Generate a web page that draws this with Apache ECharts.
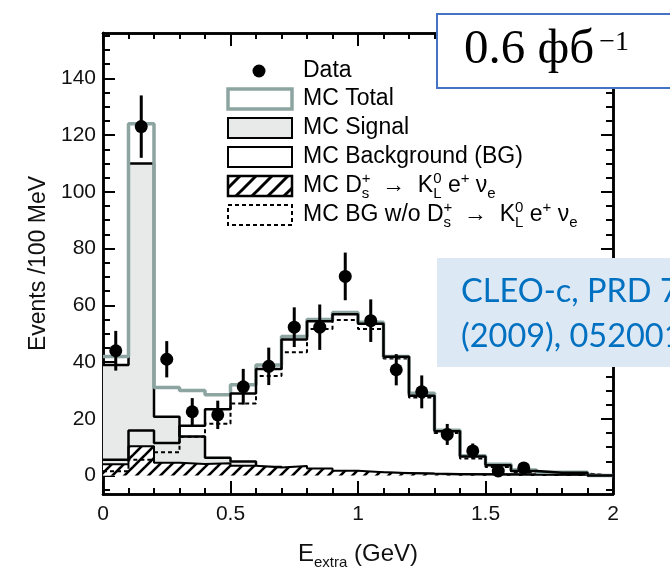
<!DOCTYPE html>
<html>
<head>
<meta charset="utf-8">
<script src="https://cdn.jsdelivr.net/npm/echarts@6/dist/echarts.min.js"></script>
<style>
  html, body { margin: 0; padding: 0; background: #fff; }
  #chart { width: 670px; height: 575px; }
</style>
</head>
<body>
<div id="chart"></div>
<script>
// bin edges (GeV), 100 MeV bins
const edges = [0, 0.1, 0.2, 0.3, 0.4, 0.5, 0.6, 0.7, 0.8, 0.9, 1.0,
  1.1, 1.2, 1.3, 1.4, 1.5, 1.6, 1.7, 1.8, 1.9, 2.0];

// histograms, one value per bin
const mcTotal  = [42, 124, 31, 30, 28.5, 32, 39, 49, 55, 57.5, 54, 42, 29, 16, 7, 4, 2, 1.2, 1.2, 0];
const mcSignal = [39, 110, 20.7, 13.8, 6.3, 5, 3, 2, 1.5, 1.2, 1, 0.8, 0.6, 0.5, 0.4, 0.4, 0.3, 0.3, 0.3, 0];
const mcBG     = [5.6, 15.9, 11.5, 17.6, 23.4, 28.9, 37.6, 48, 54.4, 56.9, 53.5, 41.9, 28.1, 15.6, 6.7, 3.6, 1.6, 1, 1, 0];
const mcKlenu  = [4, 10.3, 4.5, 4.1, 4.3, 3.5, 2.8, 3.4, 2.5, 1.7, 1.2, 0.8, 0.6, 0.5, 0.5, 0.4, 0.4, 0.3, 0.3, 0];
const mcBGnoKl = [1.5, 5.6, 8.2, 13.7, 18.3, 25.4, 35.1, 43.5, 51.7, 54.8, 51.7, 41.3, 27.5, 15, 6, 3, 1.2, 0.7, 0.7, 0];

// data points
const dataX   = [0.05, 0.15, 0.25, 0.35, 0.45, 0.55, 0.65, 0.75, 0.85, 0.95, 1.05, 1.15, 1.25, 1.35, 1.45, 1.55, 1.65];
const dataY   = [44, 123, 41, 22.5, 21.4, 31.3, 38.5, 52.3, 52.3, 70.2, 54.6, 37.3, 29.5, 14.5, 8.7, 1.6, 2.7];
const dataErr = [7, 11, 6.4, 4.8, 5, 6.3, 6.6, 7, 8, 8.4, 7.5, 5.5, 5.8, 3.7, 2.6, 1.3, 1.6];

// ticks
const xMajor = [0, 0.5, 1, 1.5, 2];
const xMinor = [0.1, 0.2, 0.3, 0.4, 0.6, 0.7, 0.8, 0.9, 1.1, 1.2, 1.3, 1.4, 1.6, 1.7, 1.8, 1.9];
const yMajor = [0, 20, 40, 60, 80, 100, 120, 140];
const yMinor = [-5, 5, 10, 15, 25, 30, 35, 45, 50, 55, 65, 70, 75, 85, 90, 95,
  105, 110, 115, 125, 130, 135, 145, 150, 155];

const FONT = "'Liberation Sans', Arial, Helvetica, sans-serif";
const SERIF = "'Liberation Serif', 'DejaVu Serif', serif";

function hatch(size, w) {
  const c = document.createElement('canvas');
  c.width = c.height = size;
  const g = c.getContext('2d');
  g.fillStyle = '#fff';
  g.fillRect(0, 0, size, size);
  g.strokeStyle = '#000';
  g.lineWidth = w;
  for (const k of [-size, 0, size]) {
    g.beginPath();
    g.moveTo(k - 1, size + 1);
    g.lineTo(k + size + 1, -1);
    g.stroke();
  }
  return c;
}

function steps(vals) {
  return edges.map((e, i) => [e, vals[Math.min(i, vals.length - 1)]]);
}

function xAx(position, ticks, len, labels) {
  return {
    type: 'value', position, min: 0, max: 2,
    axisLine: { show: true, onZero: false, lineStyle: { color: '#000', width: 2.5 } },
    axisTick: { show: true, inside: true, length: len, customValues: ticks, lineStyle: { color: '#000', width: 2 } },
    axisLabel: { show: labels, customValues: ticks, margin: 10, fontSize: 21, color: '#111', fontFamily: FONT,
      formatter: v => String(v) },
    splitLine: { show: false }
  };
}
function yAx(position, ticks, len, labels) {
  return {
    type: 'value', position, min: -6.5, max: 156,
    axisLine: { show: true, onZero: false, lineStyle: { color: '#000', width: 2.5 } },
    axisTick: { show: true, inside: true, length: len, customValues: ticks, lineStyle: { color: '#000', width: 2 } },
    axisLabel: { show: labels, customValues: ticks, margin: 7, fontSize: 21, color: '#111', fontFamily: FONT },
    splitLine: { show: false }
  };
}

const xAxes = [xAx('bottom', xMajor, 13, true), xAx('bottom', xMinor, 6, false),
  xAx('top', xMajor, 13, false), xAx('top', xMinor, 6, false)];
xAxes[0].name = '{a|E}{s|extra}{a| (GeV)}';
xAxes[0].nameLocation = 'middle';
xAxes[0].nameGap = 44;
xAxes[0].nameTextStyle = {
  rich: {
    a: { fontSize: 24, fontFamily: FONT, color: '#111', lineHeight: 32, verticalAlign: 'middle' },
    s: { fontSize: 15, fontFamily: FONT, color: '#111', lineHeight: 32, verticalAlign: 'bottom' }
  }
};
const yAxes = [yAx('left', yMajor, 12, true), yAx('left', yMinor, 7, false),
  yAx('right', yMajor, 12, false), yAx('right', yMinor, 7, false)];
yAxes[0].name = 'Events /100 MeV';
yAxes[0].nameLocation = 'middle';
yAxes[0].nameGap = 52;
yAxes[0].nameTextStyle = { fontSize: 23, fontFamily: FONT, color: '#111' };

const hatchPlot = hatch(12, 2.6);
const hatchLeg = hatch(16, 3);

const rich = {
  n: { fontSize: 23, fontFamily: FONT, color: '#111', lineHeight: 30, verticalAlign: 'middle' },
  sp: { fontSize: 15, fontFamily: FONT, color: '#111', lineHeight: 30, verticalAlign: 'top', width: 0 },
  sp2: { fontSize: 15, fontFamily: FONT, color: '#111', lineHeight: 30, verticalAlign: 'top' },
  sb: { fontSize: 15, fontFamily: FONT, color: '#111', lineHeight: 30, verticalAlign: 'bottom' }
};
const decay = '{n| D}{sp|+}{sb|s}{n|  →  K}{sp|0}{sb|L}{n| e}{sp2|+}{n| ν}{sb|e}';
const legendText = [
  '{n|Data}', '{n|MC Total}', '{n|MC Signal}', '{n|MC Background (BG)}',
  '{n|MC}' + decay, '{n|MC BG w/o}' + decay
];
const legendY = [71, 99, 128, 157, 186, 215];

const graphic = [
  { type: 'circle', shape: { cx: 259, cy: legendY[0], r: 6.5 }, style: { fill: '#000' }, z: 50 },
  { type: 'rect', shape: { x: 228, y: legendY[1] - 10, width: 64, height: 20 }, style: { fill: '#fff', stroke: '#8ca5a0', lineWidth: 3.5 }, z: 50 },
  { type: 'rect', shape: { x: 228, y: legendY[2] - 10, width: 64, height: 20 }, style: { fill: '#e8eaea', stroke: '#000', lineWidth: 2 }, z: 50 },
  { type: 'rect', shape: { x: 228, y: legendY[3] - 10, width: 64, height: 20 }, style: { fill: '#fff', stroke: '#000', lineWidth: 2 }, z: 50 },
  { type: 'rect', shape: { x: 228, y: legendY[4] - 10, width: 64, height: 20 }, style: { fill: { image: hatchLeg, repeat: 'repeat' }, stroke: '#000', lineWidth: 2.5 }, z: 50 },
  { type: 'rect', shape: { x: 228, y: legendY[5] - 10, width: 64, height: 20 }, style: { fill: '#fff', stroke: '#000', lineWidth: 2, lineDash: [4, 3] }, z: 50 },
  // overlay notes
  { type: 'rect', shape: { x: 437, y: 14, width: 250, height: 74 }, style: { fill: '#fff', stroke: '#4472c4', lineWidth: 2 }, z: 100 },
  { type: 'text', x: 464, y: 50, z: 101, style: {
      text: '{a|0.6 фб}{s|−1}', verticalAlign: 'middle',
      rich: {
        a: { fontSize: 49, fontFamily: SERIF, color: '#000', lineHeight: 50, verticalAlign: 'middle' },
        s: { fontSize: 28, fontFamily: SERIF, color: '#000', lineHeight: 50, verticalAlign: 'top', padding: [4, 0, 0, 5] }
      } } },
  { type: 'rect', shape: { x: 437, y: 258, width: 250, height: 109 }, style: { fill: '#dde8f5' }, z: 100 },
  { type: 'text', x: 461, y: 292, z: 101, style: { text: 'CLEO-c, PRD 79', verticalAlign: 'middle', fontSize: 32.5, fontFamily: "Lato, 'Open Sans', sans-serif", fill: '#0070c0' } },
  { type: 'text', x: 461, y: 337, z: 101, style: { text: '(2009), 052001', verticalAlign: 'middle', fontSize: 32.5, fontFamily: "Lato, 'Open Sans', sans-serif", fill: '#0070c0' } }
];
legendText.forEach((t, i) => {
  graphic.push({ type: 'text', x: 303, y: legendY[i], z: 50, style: { text: t, verticalAlign: 'middle', rich } });
});

function stepLine(name, vals, lineStyle, extra) {
  return Object.assign({
    name, type: 'line', step: 'end', data: steps(vals), xAxisIndex: 0, yAxisIndex: 0,
    symbol: 'none', showSymbol: false, lineStyle
  }, extra || {});
}

const chart = echarts.init(document.getElementById('chart'), null, { renderer: 'canvas' });
chart.setOption({
  animation: false,
  backgroundColor: '#fff',
  grid: { left: 103, right: 57, top: 33, bottom: 71.5 },
  xAxis: xAxes,
  yAxis: yAxes,
  graphic,
  series: [
    stepLine('MC Signal', mcSignal, { color: '#000', width: 2.5 }, { areaStyle: { color: '#e8eaea', opacity: 1 }, z: 2 }),
    stepLine('MC Ds -> KL e nu', mcKlenu, { color: '#000', width: 2 }, { areaStyle: { color: { image: hatchPlot, repeat: 'repeat' }, opacity: 1 }, z: 3 }),
    stepLine('MC BG w/o', mcBGnoKl, { color: '#000', width: 2, type: [4, 3] }, { z: 4 }),
    stepLine('MC Total', mcTotal, { color: '#8ca5a0', width: 3.5 }, { z: 4 }),
    stepLine('MC Background', mcBG, { color: '#000', width: 2.5 }, { z: 5 }),
    {
      name: 'errors', type: 'custom', xAxisIndex: 0, yAxisIndex: 0, z: 6,
      data: dataX.map((x, i) => [x, dataY[i], dataErr[i]]),
      renderItem: (params, api) => {
        const x = api.value(0), y = api.value(1), e = api.value(2);
        const p1 = api.coord([x, y - e]);
        const p2 = api.coord([x, y + e]);
        return { type: 'line', shape: { x1: p1[0], y1: p1[1], x2: p2[0], y2: p2[1] }, style: { stroke: '#000', lineWidth: 3 } };
      }
    },
    {
      name: 'Data', type: 'scatter', xAxisIndex: 0, yAxisIndex: 0, z: 7,
      data: dataX.map((x, i) => [x, dataY[i]]),
      symbol: 'circle', symbolSize: 13, itemStyle: { color: '#000', opacity: 1 }
    }
  ]
});
</script>
</body>
</html>
